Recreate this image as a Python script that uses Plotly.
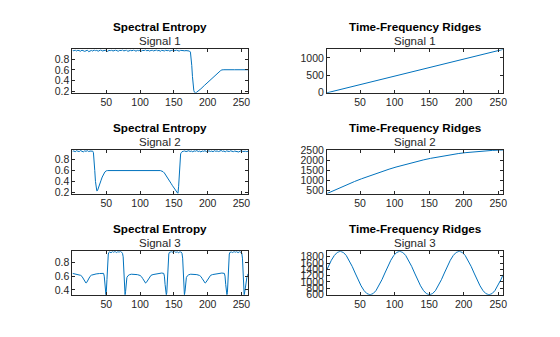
import plotly.graph_objects as go

# ---------------- data ----------------
# Spectral entropy, signal 1
se1_noise_start = 0
se1_noise = [0.962, 0.955, 0.968, 0.951, 0.964, 0.958, 0.947, 0.966, 0.959, 0.944,
             0.953, 0.967, 0.938, 0.956, 0.961, 0.949, 0.970, 0.957, 0.963, 0.946,
             0.959, 0.972, 0.951, 0.960, 0.955, 0.968, 0.943, 0.962, 0.957, 0.965,
             0.950, 0.961, 0.969, 0.954, 0.948, 0.963, 0.958, 0.971, 0.952, 0.960,
             0.966, 0.945, 0.957, 0.964, 0.953, 0.969, 0.959, 0.947, 0.962, 0.956,
             0.967, 0.950, 0.961, 0.958, 0.973, 0.954, 0.963, 0.949, 0.960, 0.966,
             0.952, 0.957, 0.970, 0.955, 0.961, 0.946, 0.964, 0.958, 0.951, 0.967,
             0.956, 0.962, 0.948, 0.959, 0.965, 0.953, 0.960, 0.968, 0.955, 0.950,
             0.963, 0.957, 0.961, 0.954, 0.958, 0.952, 0.950]
se1_tail_x = [173, 174.5, 175.5, 176.5, 177.5, 178.5, 179.5, 180.5, 181.5, 183, 186,
              190, 195, 200, 205, 210, 215, 219, 221, 224, 240, 260]
se1_tail_y = [0.95, 0.93, 0.85, 0.68, 0.48, 0.32, 0.22, 0.185, 0.176, 0.18, 0.205,
              0.25, 0.31, 0.37, 0.425, 0.485, 0.54, 0.585, 0.6, 0.603, 0.603, 0.603]

# Spectral entropy, signal 2
se2_head = [0.955, 0.962, 0.948, 0.966, 0.957, 0.951, 0.969, 0.958, 0.945, 0.963,
            0.956, 0.967, 0.952, 0.960, 0.954, 0.958]
se2_mid_x = [31, 32, 33, 34, 35, 36, 37, 38, 40, 42, 44, 46, 48, 50, 52, 130,
             132, 134, 136, 138, 140, 142, 144, 146, 148, 150, 152, 154, 155, 156,
             157, 158, 159, 160, 161]
se2_mid_y = [0.93, 0.82, 0.6, 0.4, 0.27, 0.225, 0.23, 0.26, 0.33, 0.41, 0.48, 0.535,
             0.575, 0.595, 0.6, 0.6,
             0.595, 0.58, 0.555, 0.52, 0.48, 0.44, 0.40, 0.36, 0.32, 0.28, 0.24, 0.2,
             0.18, 0.176, 0.3, 0.6, 0.85, 0.91, 0.93]
se2_tail_start = 162
se2_tail = [0.948, 0.956, 0.962, 0.951, 0.958, 0.966, 0.953, 0.960, 0.947, 0.963,
            0.957, 0.969, 0.952, 0.959, 0.944, 0.961, 0.955, 0.967, 0.950, 0.958,
            0.964, 0.953, 0.960, 0.948, 0.966, 0.956, 0.962, 0.951, 0.959, 0.970,
            0.954, 0.961, 0.946, 0.963, 0.957, 0.952, 0.965, 0.958, 0.949, 0.960,
            0.955, 0.962, 0.943, 0.959, 0.966, 0.953, 0.961, 0.956, 0.950, 0.958]

# Spectral entropy, signal 3
se3_x = [0, 3, 6, 9, 12, 14, 16, 18, 19, 20, 21, 22, 24, 26, 28, 31, 35, 40, 44, 46,
         47, 48, 49, 49.5, 50, 51, 52, 53, 54,
         55, 57, 59, 61, 63, 65, 67, 69, 71, 73,
         74, 75, 76, 77, 77.8, 78.6, 79.5, 80.5, 82, 84, 87,
         92, 96, 100, 102, 104, 106, 107.2, 108.2, 109.2, 110.2, 112.2, 114.2, 116.2,
         119.2, 123, 128, 132, 135,
         136, 137, 138, 138.8, 139.5, 140.5, 141.5, 142.5, 143.5,
         145, 147, 149, 151, 153, 155, 157, 159, 161,
         162, 163, 164, 165, 165.6, 166.5, 167.5, 168.5, 170, 172, 175,
         180, 184, 188, 190, 192, 194, 195.3, 196.3, 197.3, 198.3, 200.3, 202.3, 204.3,
         207.3, 211, 216, 221, 224.7,
         225.7, 226.7, 227.7, 228.5, 229.2, 230, 231, 232, 233,
         235, 237, 239, 241, 243, 245, 247, 249,
         250.5, 251.5, 252.5, 253.3, 254, 255, 256.5, 258, 259, 260]
se3_y = [0.64, 0.635, 0.63, 0.624, 0.612, 0.597, 0.567, 0.527, 0.508, 0.5, 0.508, 0.527,
         0.567, 0.597, 0.614, 0.624, 0.632, 0.638, 0.645, 0.64,
         0.6, 0.48, 0.36, 0.33, 0.36, 0.55, 0.8, 0.92, 0.945,
         0.952, 0.938, 0.955, 0.946, 0.958, 0.941, 0.953, 0.949, 0.956, 0.944,
         0.93, 0.88, 0.65, 0.42, 0.33, 0.38, 0.5, 0.58, 0.605, 0.62, 0.628,
         0.627, 0.622, 0.61, 0.594, 0.564, 0.525, 0.508, 0.5, 0.508, 0.525, 0.564, 0.594,
         0.612, 0.623, 0.631, 0.637, 0.645, 0.64,
         0.6, 0.48, 0.36, 0.33, 0.36, 0.55, 0.8, 0.92, 0.945,
         0.948, 0.955, 0.94, 0.957, 0.945, 0.952, 0.939, 0.954, 0.947,
         0.93, 0.86, 0.6, 0.38, 0.33, 0.38, 0.5, 0.58, 0.605, 0.62, 0.628,
         0.627, 0.622, 0.61, 0.594, 0.564, 0.525, 0.508, 0.5, 0.508, 0.525, 0.564, 0.594,
         0.612, 0.623, 0.631, 0.637, 0.645, 0.64,
         0.6, 0.48, 0.36, 0.33, 0.36, 0.55, 0.8, 0.92, 0.945,
         0.951, 0.942, 0.956, 0.947, 0.954, 0.94, 0.953, 0.948,
         0.93, 0.86, 0.6, 0.38, 0.33, 0.38, 0.5, 0.58, 0.61, 0.635]

# Time-frequency ridges
r1_x = [2, 45, 87, 130, 172, 215, 257]
r1_y = [0, 210, 415, 625, 830, 1040, 1245]

r2_x = [2, 12, 22, 32, 42, 52, 62, 72, 82, 92, 102, 112, 122, 132, 142, 152, 162,
        172, 182, 192, 202, 212, 222, 232, 242, 252, 257]
r2_y = [360, 518, 670, 816, 957, 1091, 1219, 1341, 1457, 1567, 1671, 1769, 1861,
        1947, 2027, 2101, 2169, 2231, 2287, 2337, 2381, 2419, 2451, 2477, 2496,
        2510, 2515]

r3_x = [2, 4.1, 8.4, 12.7, 17.0, 21.3, 25.6, 29.9, 34.2, 38.5, 42.8, 47.1, 51.4, 55.7,
        60.0, 64.4, 68.7, 73.0, 77.3, 81.6, 85.9, 90.2, 94.5, 98.8, 103.1, 107.4,
        111.7, 116.0, 120.3, 124.6, 128.9, 133.2, 137.5, 141.8, 146.1, 150.5, 154.8,
        159.1, 163.4, 167.7, 172.0, 176.3, 180.6, 184.9, 189.2, 193.5, 197.8, 202.1,
        206.4, 210.7, 215.0, 219.3, 223.6, 227.9, 232.2, 236.6, 240.9, 245.2, 249.5,
        253.8, 257]
r3_y = [1393, 1496, 1689, 1841, 1939,
        1973, 1939, 1841, 1689, 1496, 1283, 1070, 877, 725, 627,
        593, 627, 725, 877, 1070, 1283, 1496, 1689, 1841, 1939,
        1973, 1939, 1841, 1689, 1496, 1283, 1070, 877, 725, 627,
        593, 627, 725, 877, 1070, 1283, 1496, 1689, 1841, 1939,
        1973, 1939, 1841, 1689, 1496, 1283, 1070, 877, 725, 627,
        593, 627, 725, 877, 1070, 1228]

x_ticks = [50, 100, 150, 200, 250]
titles_left = ["Spectral Entropy"] * 3
titles_right = ["Time-Frequency Ridges"] * 3
subtitles = ["Signal 1", "Signal 2", "Signal 3"]

# ---------------- figure ----------------
BLUE = "#0072BD"
AX = "#262626"
FONT = "Liberation Sans, Arial, Helvetica, sans-serif"

se1_x = [se1_noise_start + 2 * i for i in range(len(se1_noise))] + se1_tail_x
se1_y = se1_noise + se1_tail_y
se2_x = [2 * i for i in range(len(se2_head))] + se2_mid_x + \
        [se2_tail_start + 2 * i for i in range(len(se2_tail))]
se2_y = se2_head + se2_mid_y + se2_tail

series = [(se1_x, se1_y), (r1_x, r1_y), (se2_x, se2_y), (r2_x, r2_y),
          (se3_x, se3_y), (r3_x, r3_y)]

fig = go.Figure()
for i, (xs, ys) in enumerate(series, start=1):
    fig.add_trace(go.Scatter(
        x=xs, y=ys, mode="lines", line=dict(color=BLUE, width=1),
        xaxis="x" if i == 1 else f"x{i}", yaxis="y" if i == 1 else f"y{i}",
        showlegend=False, hoverinfo="skip"))

W, H = 560, 337
xdom_left = [73 / W, 250 / W]
xdom_right = [329.3 / W, 506.7 / W]
rows_px = [(45, 90), (149.3, 194.5), (254.3, 299.5)]
ydoms = [[1 - b / H, 1 - t / H] for (t, b) in rows_px]

xranges = [[0, 260], [2, 257]]
yranges = [[0.176, 0.98], [0, 1245],
           [0.175, 0.98], [360, 2515],
           [0.33, 0.96], [590, 1975]]
yticks = [[0.2, 0.4, 0.6, 0.8], [0, 500, 1000],
          [0.2, 0.4, 0.6, 0.8], [500, 1000, 1500, 2000, 2500],
          [0.4, 0.6, 0.8], [600, 800, 1000, 1200, 1400, 1600, 1800]]

common = dict(showline=True, linecolor=AX, linewidth=1, mirror="ticks",
              ticks="inside", ticklen=3, tickcolor=AX, tickwidth=1,
              showgrid=False, zeroline=False,
              tickfont=dict(family=FONT, size=10.5, color=AX))

layout = dict(width=W, height=H, margin=dict(l=0, r=0, t=0, b=0),
              paper_bgcolor="white", plot_bgcolor="white", showlegend=False)
annotations = []
for i in range(1, 7):
    r = (i - 1) // 2
    c = (i - 1) % 2
    xd = xdom_left if c == 0 else xdom_right
    xa = "xaxis" if i == 1 else f"xaxis{i}"
    ya = "yaxis" if i == 1 else f"yaxis{i}"
    anchor_y = "y" if i == 1 else f"y{i}"
    anchor_x = "x" if i == 1 else f"x{i}"
    layout[xa] = dict(domain=xd, range=xranges[c], tickvals=x_ticks,
                      anchor=anchor_y, **common)
    layout[ya] = dict(domain=ydoms[r], range=yranges[i - 1], tickvals=yticks[i - 1],
                      anchor=anchor_x, **common)
    cx = (xd[0] + xd[1]) / 2
    t_px = rows_px[r][0]
    title = titles_left[r] if c == 0 else titles_right[r]
    annotations.append(dict(text=f"<b>{title}</b>", x=cx, y=1 - (t_px - 23.7) / H,
                            xref="paper", yref="paper", xanchor="center",
                            yanchor="middle", showarrow=False,
                            font=dict(family=FONT, size=11.7, color="#000000")))
    annotations.append(dict(text=subtitles[r], x=cx, y=1 - (t_px - 8.3) / H,
                            xref="paper", yref="paper", xanchor="center",
                            yanchor="middle", showarrow=False,
                            font=dict(family=FONT, size=11.5, color="#262626")))
layout["annotations"] = annotations
fig.update_layout(**layout)
fig.write_html("out.html")
